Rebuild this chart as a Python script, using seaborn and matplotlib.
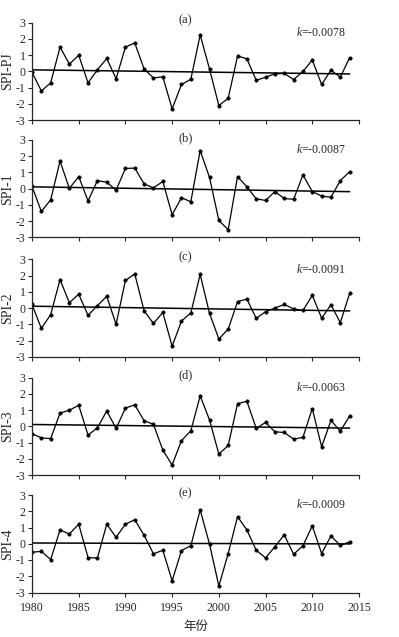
import numpy as np
import pandas as pd
import matplotlib
matplotlib.use("Agg")
import matplotlib.pyplot as plt
import seaborn as sns

years = list(range(1980, 2015))

spi_pj = [-0.05, -1.2, -0.7, 1.5, 0.45, 1.0, -0.7, 0.1, 0.8, -0.45, 1.5, 1.75, 0.15, -0.4, -0.33,
          -2.3, -0.8, -0.48, 2.25, 0.15, -2.1, -1.65, 0.95, 0.78, -0.55, -0.35, -0.15, -0.12, -0.5, 0.0,
          0.7, -0.8, 0.08, -0.35, 0.85]
spi_1 = [0.15, -1.4, -0.68, 1.7, 0.02, 0.75, -0.75, 0.5, 0.4, -0.08, 1.25, 1.27, 0.3, 0.05, 0.45,
         -1.6, -0.55, -0.8, 2.35, 0.7, -1.95, -2.52, 0.75, 0.12, -0.62, -0.72, -0.17, -0.6, -0.65, 0.85,
         -0.17, -0.45, -0.52, 0.5, 1.05]
spi_2 = [0.22, -1.25, -0.4, 1.75, 0.33, 0.85, -0.45, 0.15, 0.72, -1.0, 1.7, 2.1, -0.17, -0.95, -0.27,
         -2.35, -0.8, -0.3, 2.07, -0.33, -1.9, -1.3, 0.4, 0.55, -0.63, -0.22, 0.0, 0.22, -0.05, -0.15,
         0.78, -0.62, 0.2, -0.9, 0.9]
spi_3 = [-0.45, -0.7, -0.75, 0.82, 1.0, 1.3, -0.53, -0.08, 0.95, -0.12, 1.13, 1.33, 0.35, 0.13, -1.45,
         -2.37, -0.87, -0.27, 1.88, 0.4, -1.7, -1.17, 1.4, 1.55, -0.12, 0.25, -0.33, -0.37, -0.78, -0.67,
         1.1, -1.25, 0.37, -0.29, 0.65]
spi_4 = [-0.52, -0.47, -0.97, 0.85, 0.6, 1.2, -0.85, -0.88, 1.2, 0.4, 1.2, 1.48, 0.52, -0.62, -0.4,
         -2.28, -0.42, -0.12, 2.08, -0.02, -2.6, -0.6, 1.67, 0.85, -0.4, -0.87, -0.18, 0.55, -0.65, -0.12,
         1.1, -0.6, 0.48, -0.1, 0.12]

series = [spi_pj, spi_1, spi_2, spi_3, spi_4]
ylabels = ["SPI-PJ", "SPI-1", "SPI-2", "SPI-3", "SPI-4"]
panel_titles = ["(a)", "(b)", "(c)", "(d)", "(e)"]
k_values = ["-0.0078", "-0.0087", "-0.0091", "-0.0063", "-0.0009"]
xticks = [1980, 1985, 1990, 1995, 2000, 2005, 2010, 2015]
yticks = [-3, -2, -1, 0, 1, 2, 3]

sns.set_style("ticks")
plt.rcParams["font.family"] = ["Liberation Serif", "Noto Sans CJK SC", "DejaVu Sans"]
plt.rcParams["axes.unicode_minus"] = False
plt.rcParams["mathtext.fontset"] = "custom"
plt.rcParams["mathtext.it"] = "Liberation Serif:italic"
plt.rcParams["mathtext.rm"] = "Liberation Serif"

fig = plt.figure(figsize=(3.99, 6.37), dpi=100)
W, H = 399.0, 637.0
left = 32 / W
width = (359 - 32) / W
tops = [22.7, 140.0, 259.3, 377.7, 495.0]
ph = 97.5

for i, (vals, yl, tt, kv) in enumerate(zip(series, ylabels, panel_titles, k_values)):
    bottom = 1 - (tops[i] + ph) / H
    ax = fig.add_axes([left, bottom, width, ph / H])
    df = pd.DataFrame({"year": years, "val": vals})
    sns.regplot(data=df, x="year", y="val", ax=ax, scatter=False, ci=None,
                line_kws={"color": "black", "lw": 1.1})
    sns.lineplot(data=df, x="year", y="val", ax=ax, color="black", lw=0.9,
                 marker="o", markersize=2.4, markeredgecolor="black", markeredgewidth=0.5)
    ax.set_xlim(1980, 2015)
    ax.set_ylim(-3, 3)
    ax.set_xticks(xticks)
    ax.set_yticks(yticks)
    ax.set_yticklabels([str(v) for v in yticks])
    ax.set_ylabel(yl, fontsize=10, labelpad=1)
    ax.set_xlabel("")
    ax.tick_params(axis="both", labelsize=8.5, length=3, width=0.8, pad=1.5, direction="out")
    ax.tick_params(axis="x", pad=4)
    if i < 4:
        ax.tick_params(axis="x", labelbottom=False)
    for s in ["top", "right"]:
        ax.spines[s].set_visible(False)
    for s in ["left", "bottom"]:
        ax.spines[s].set_linewidth(0.9)
    ax.text(0.47, 1.02, tt, transform=ax.transAxes, ha="center", va="center", fontsize=9)
    ax.text(0.96, 0.9, r"$k$" + "=" + kv, transform=ax.transAxes, ha="right",
            va="center", fontsize=8.5)
    if i == 4:
        ax.set_xlabel("年份", fontsize=9, family=["Noto Sans CJK SC", "DejaVu Sans"], labelpad=4)

fig.savefig("out.png", dpi=100)
